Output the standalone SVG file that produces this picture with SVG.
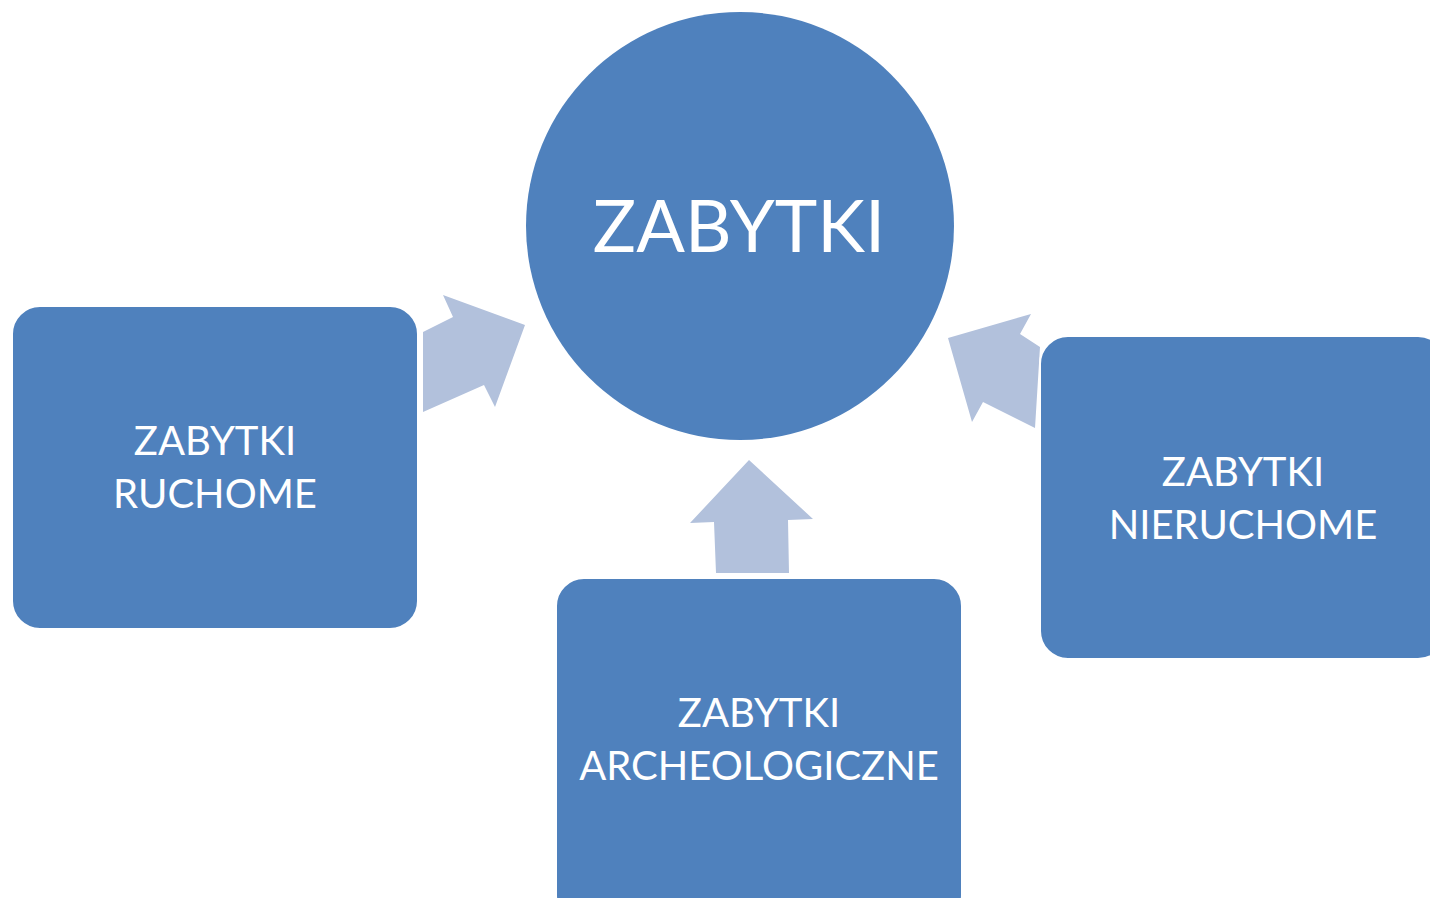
<svg xmlns="http://www.w3.org/2000/svg" width="1430" height="898" viewBox="0 0 1430 898">
<style>
.box{fill:#4F81BD;stroke:#ffffff;stroke-width:2}
.arr{fill:#B2C1DC}
.t{font-family:Lato,"Open Sans",sans-serif;fill:#ffffff;text-anchor:middle;font-size:40px}
.big{font-size:72px}
</style>
<rect width="1430" height="898" fill="#ffffff"/>
<g id="connectors">
<polygon class="arr" points="423,412 423,332 453,317 443,295 525,325 495,407 484,385"/>
<polygon class="arr" points="948,338 1031,314 1020,334 1040,347 1035,428 983,402 972,422"/>
<polygon class="arr" points="749,460 813,519 788,520 789,573 716,573 714,522 690,523"/>
</g>
<g id="center">
<circle cx="740" cy="226" r="214" fill="#4F81BD"/>
<text class="t big" x="739" y="252">ZABYTKI</text>
</g>
<g id="ruchome">
<rect class="box" x="12" y="306" width="406" height="323" rx="28"/>
<text class="t" x="215" y="455">ZABYTKI</text>
<text class="t" x="215" y="508">RUCHOME</text>
</g>
<g id="nieruchome">
<rect class="box" x="1040" y="336" width="406" height="323" rx="28"/>
<text class="t" x="1243" y="486">ZABYTKI</text>
<text class="t" x="1243" y="539">NIERUCHOME</text>
</g>
<g id="archeologiczne">
<rect class="box" x="556" y="578" width="406" height="345" rx="28"/>
<text class="t" x="759" y="727">ZABYTKI</text>
<text class="t" x="759" y="780">ARCHEOLOGICZNE</text>
</g>
</svg>
